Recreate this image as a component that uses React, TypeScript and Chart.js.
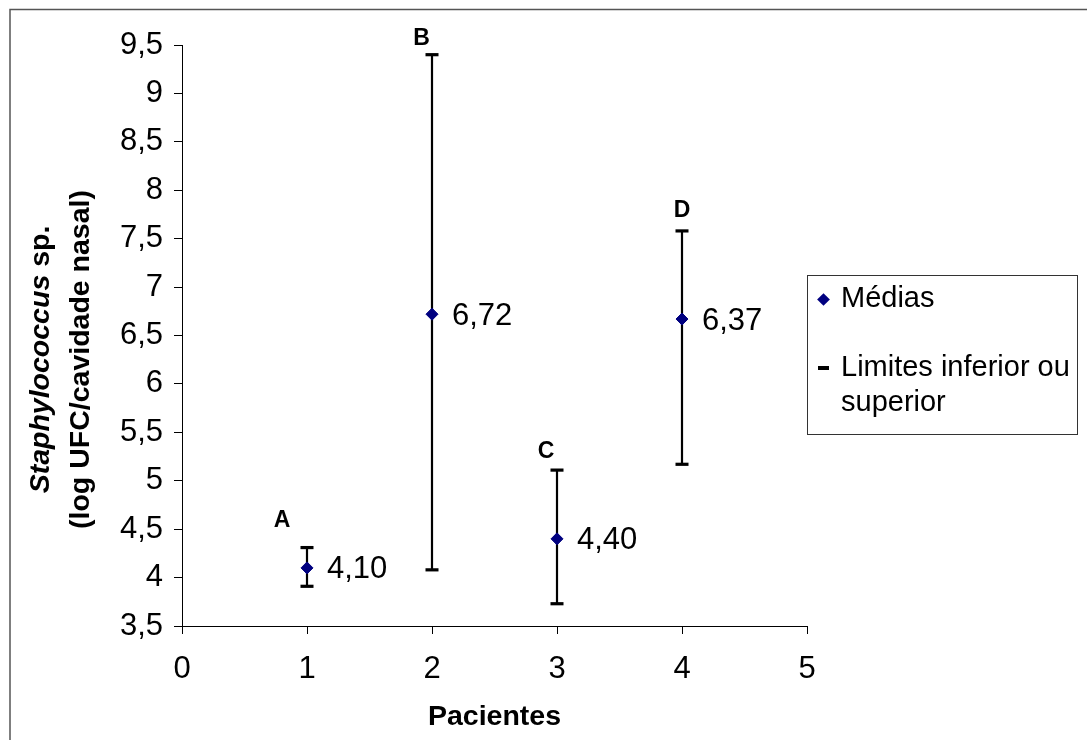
import React, { useEffect, useRef } from 'react';
import { Chart, registerables } from 'chart.js';

Chart.register(...registerables);

// ---- data ----
const patients = [1, 2, 3, 4];
const means = [4.1, 6.72, 4.4, 6.67];
const lowerLimits = [3.91, 4.08, 3.73, 5.17];
const upperLimits = [4.31, 9.4, 5.11, 7.58];
const meanLabels = ['4,10', '6,72', '4,40', '6,37'];
const groupLetters = ['A', 'B', 'C', 'D'];
const letterX = [0.8, 1.916, 2.912, 4.0];
const letterY = [4.585, 9.564, 5.3, 7.787];
const xTickValues = [0, 1, 2, 3, 4, 5];
const xTickLabels = ['0', '1', '2', '3', '4', '5'];
const yTickValues = [3.5, 4, 4.5, 5, 5.5, 6, 6.5, 7, 7.5, 8, 8.5, 9, 9.5];
const yTickLabels = ['3,5', '4', '4,5', '5', '5,5', '6', '6,5', '7', '7,5', '8', '8,5', '9', '9,5'];
const xTitle = 'Pacientes';
const yTitleItalic = 'Staphylococcus';
const yTitleRest = ' sp.';
const yTitleLine2 = '(log UFC/cavidade nasal)';
const legendMeans = 'Médias';
const legendLimits1 = 'Limites inferior ou';
const legendLimits2 = 'superior';

const FONT = '"Liberation Sans", Arial, Helvetica, sans-serif';

function labelFor(values: number[], labels: string[], v: number) {
  const i = values.findIndex((t) => Math.abs(t - v) < 1e-6);
  return i >= 0 ? labels[i] : '';
}

const framePlugin = {
  id: 'frame',
  beforeDraw(chart: any) {
    const ctx = chart.ctx;
    ctx.save();
    ctx.strokeStyle = '#555';
    ctx.lineWidth = 1.5;
    ctx.beginPath();
    ctx.moveTo(10, 740);
    ctx.lineTo(10, 9.5);
    ctx.lineTo(1087, 9.5);
    ctx.stroke();
    ctx.restore();
  },
};

const annotPlugin = {
  id: 'annot',
  afterDatasetsDraw(chart: any) {
    const ctx = chart.ctx;
    const xs = chart.scales.x;
    const ys = chart.scales.y;
    ctx.save();
    // value labels
    ctx.fillStyle = '#000';
    ctx.font = `31px ${FONT}`;
    ctx.textAlign = 'left';
    ctx.textBaseline = 'middle';
    patients.forEach((p, i) => {
      ctx.fillText(meanLabels[i], xs.getPixelForValue(p) + 20, ys.getPixelForValue(means[i]) + 2);
    });
    // group letters
    ctx.font = `bold 23px ${FONT}`;
    ctx.textAlign = 'center';
    groupLetters.forEach((l, i) => {
      ctx.fillText(l, xs.getPixelForValue(letterX[i]), ys.getPixelForValue(letterY[i]));
    });
    // y title
    const cy = (ys.top + ys.bottom) / 2 + 24;
    ctx.textAlign = 'left';
    ctx.textBaseline = 'middle';
    const fItal = `italic bold 28.5px ${FONT}`;
    const fBold = `bold 28.5px ${FONT}`;
    ctx.font = fItal;
    const w1 = ctx.measureText(yTitleItalic).width;
    ctx.font = fBold;
    const w2 = ctx.measureText(yTitleRest).width;
    const w3 = ctx.measureText(yTitleLine2).width;
    ctx.save();
    ctx.translate(41, cy);
    ctx.rotate(-Math.PI / 2);
    ctx.font = fItal;
    ctx.fillText(yTitleItalic, -(w1 + w2) / 2, 0);
    ctx.font = fBold;
    ctx.fillText(yTitleRest, -(w1 + w2) / 2 + w1, 0);
    ctx.restore();
    ctx.save();
    ctx.translate(81, cy);
    ctx.rotate(-Math.PI / 2);
    ctx.font = fBold;
    ctx.fillText(yTitleLine2, -w3 / 2, 0);
    ctx.restore();
    ctx.restore();
  },
};

export default function App() {
  const ref = useRef<HTMLCanvasElement>(null);
  useEffect(() => {
    document.body.style.margin = '0';
    const rangeSets = patients.map((p, i) => ({
      label: 'range' + i,
      data: [
        { x: p, y: lowerLimits[i] },
        { x: p, y: upperLimits[i] },
      ],
      showLine: true,
      borderColor: '#000',
      borderWidth: 2.2,
      pointRadius: 0,
      order: 3,
    }));
    const capData = [
      ...patients.map((p, i) => ({ x: p, y: lowerLimits[i] })),
      ...patients.map((p, i) => ({ x: p, y: upperLimits[i] })),
    ];
    const chart = new Chart(ref.current as HTMLCanvasElement, {
      type: 'scatter',
      data: {
        datasets: [
          ...rangeSets,
          {
            label: 'Limites inferior ou superior',
            data: capData,
            pointStyle: 'line',
            pointRadius: 6.5,
            borderWidth: 3.2,
            borderColor: '#000',
            backgroundColor: '#000',
            order: 2,
          },
          {
            label: 'Médias',
            data: patients.map((p, i) => ({ x: p, y: means[i] })),
            pointStyle: 'rectRot',
            pointRadius: 6,
            borderWidth: 1,
            borderColor: '#000080',
            backgroundColor: '#000080',
            order: 1,
          },
        ] as any,
      },
      options: {
        animation: false,
        responsive: false,
        devicePixelRatio: 1,
        layout: { padding: { left: 0, right: 280, top: 45, bottom: 0 } },
        plugins: { legend: { display: false }, tooltip: { enabled: false } },
        scales: {
          x: {
            type: 'linear',
            min: 0,
            max: 5,
            afterFit: (s: any) => {
              s.height = 114;
            },
            afterBuildTicks: (s: any) => {
              s.ticks = xTickValues.map((v) => ({ value: v }));
            },
            ticks: {
              color: '#000',
              font: { family: FONT, size: 31 },
              padding: 17,
              callback: (v: any) => labelFor(xTickValues, xTickLabels, Number(v)),
            },
            grid: { drawOnChartArea: false, drawTicks: true, tickLength: 8, color: '#000' },
            border: { color: '#000', width: 1 },
            title: {
              display: true,
              text: xTitle,
              color: '#000',
              font: { family: FONT, size: 28.5, weight: 'bold' },
              padding: { top: 0, bottom: 6 },
            },
          },
          y: {
            type: 'linear',
            min: 3.5,
            max: 9.5,
            afterFit: (s: any) => {
              s.width = 182;
            },
            afterBuildTicks: (s: any) => {
              s.ticks = yTickValues.map((v) => ({ value: v }));
            },
            ticks: {
              color: '#000',
              font: { family: FONT, size: 31 },
              padding: 11,
              callback: (v: any) => labelFor(yTickValues, yTickLabels, Number(v)),
            },
            grid: { drawOnChartArea: false, drawTicks: true, tickLength: 8, color: '#000' },
            border: { color: '#000', width: 1 },
          },
        },
      },
      plugins: [framePlugin, annotPlugin],
    } as any);
    return () => chart.destroy();
  }, []);

  const txt: React.CSSProperties = {
    position: 'absolute',
    left: 33,
    fontSize: 29,
    lineHeight: '35px',
    whiteSpace: 'nowrap',
    color: '#000',
  };

  return (
    <div
      style={{
        position: 'absolute',
        left: 0,
        top: 0,
        width: 1087,
        height: 740,
        overflow: 'hidden',
        background: '#fff',
        fontFamily: FONT,
      }}
    >
      <canvas ref={ref} width={1087} height={740} style={{ display: 'block', width: 1087, height: 740 }} />
      <div
        style={{
          position: 'absolute',
          left: 807,
          top: 275,
          width: 271,
          height: 160,
          border: '1.5px solid #333',
          boxSizing: 'border-box',
        }}
      >
        <span
          style={{
            position: 'absolute',
            left: 11,
            top: 19,
            width: 9,
            height: 9,
            background: '#000080',
            transform: 'rotate(45deg)',
          }}
        />
        <span style={{ ...txt, top: 4 }}>{legendMeans}</span>
        <span
          style={{ position: 'absolute', left: 10, top: 90, width: 11, height: 4, background: '#000' }}
        />
        <span style={{ ...txt, top: 73 }}>
          {legendLimits1}
          <br />
          {legendLimits2}
        </span>
      </div>
    </div>
  );
}
